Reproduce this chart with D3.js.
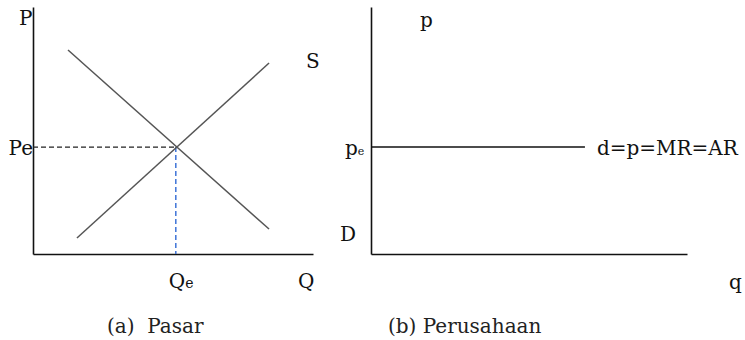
<!DOCTYPE html>
<html lang="id">
<head>
    <meta charset="UTF-8" />
    <title>Pasar dan Perusahaan - Persaingan Sempurna</title>
    <script src="https://d3js.org/d3.v7.min.js"></script>
    <style>
        body {
            margin: 0;
            background-color: #fff;
        }
        .lbl {
            font-family: 'DejaVu Serif', serif;
            font-size: 20px;
            fill: #111;
        }
        .caption {
            font-family: 'DejaVu Serif', serif;
            font-size: 20px;
            fill: #222;
        }
        .axis path {
            stroke: #111;
            stroke-width: 1.6px;
        }
        .curve {
            fill: none;
            stroke: #555;
            stroke-width: 1.5px;
        }
    </style>
</head>
<body>
    <svg id="chart"></svg>

    <script>
        // Panel (a) market: demand and supply, in units of 0..10
        const demand = [{ q: 1.25, p: 8.26 }, { q: 8.43, p: 1.01 }];
        const supply = [{ q: 1.57, p: 0.65 }, { q: 8.43, p: 7.73 }];
        const equilibrium = { q: 5.1, p: 4.33 };

        // Panel (b) firm: flat demand line at the market price
        const firmDemand = [{ q: 0, p: 4.33 }, { q: 6.77, p: 4.33 }];

        const captions = ["(a)  Pasar", "(b) Perusahaan"];

        const W = 745, H = 340;
        const svg = d3.select("#chart").attr("width", W).attr("height", H);

        // scales for each panel
        const xA = d3.scaleLinear().domain([0, 10]).range([33, 313]);
        const yA = d3.scaleLinear().domain([0, 10]).range([254, 7]);
        const xB = d3.scaleLinear().domain([0, 10]).range([371, 687]);
        const yB = d3.scaleLinear().domain([0, 10]).range([254, 7]);

        function drawAxes(x, y) {
            svg.append("g").attr("class", "axis")
                .attr("transform", "translate(0," + y(0) + ")")
                .call(d3.axisBottom(x).tickValues([]).tickSizeOuter(0));
            svg.append("g").attr("class", "axis")
                .attr("transform", "translate(" + x(0) + ",0)")
                .call(d3.axisLeft(y).tickValues([]).tickSizeOuter(0));
        }

        // ----- panel (a) -----
        drawAxes(xA, yA);

        const lineA = d3.line().x(d => xA(d.q)).y(d => yA(d.p));

        // equilibrium guides
        svg.append("line")
            .attr("x1", xA(0)).attr("x2", xA(equilibrium.q))
            .attr("y1", yA(equilibrium.p)).attr("y2", yA(equilibrium.p))
            .attr("stroke", "#222").attr("stroke-width", 1.3)
            .attr("stroke-dasharray", "5,3");
        svg.append("line")
            .attr("x1", xA(equilibrium.q)).attr("x2", xA(equilibrium.q))
            .attr("y1", yA(equilibrium.p)).attr("y2", yA(0))
            .attr("stroke", "#3f74d8").attr("stroke-width", 1.5)
            .attr("stroke-dasharray", "5,3");

        svg.append("path").datum(demand).attr("class", "curve").attr("d", lineA);
        svg.append("path").datum(supply).attr("class", "curve").attr("d", lineA);

        svg.append("text").attr("class", "lbl")
            .attr("x", xA(0) - 14).attr("y", yA(10) + 18).text("P");
        svg.append("text").attr("class", "lbl")
            .attr("x", 306).attr("y", 68).text("S");
        svg.append("text").attr("class", "lbl")
            .attr("x", xA(0)).attr("y", yA(equilibrium.p) + 8)
            .attr("text-anchor", "end").text("Pe");

        const qe = svg.append("text").attr("class", "lbl")
            .attr("x", xA(equilibrium.q) - 7).attr("y", 288);
        qe.append("tspan").text("Q");
        qe.append("tspan").attr("font-size", "14px").text("e");

        svg.append("text").attr("class", "lbl")
            .attr("x", xA(10) - 15).attr("y", 288).text("Q");

        // ----- panel (b) -----
        drawAxes(xB, yB);

        const lineB = d3.line().x(d => xB(d.q)).y(d => yB(d.p));
        svg.append("path").datum(firmDemand)
            .attr("fill", "none").attr("stroke", "#111").attr("stroke-width", 1.5)
            .attr("d", lineB);

        svg.append("text").attr("class", "lbl")
            .attr("x", xB(firmDemand[1].q) + 12).attr("y", yB(firmDemand[1].p) + 8)
            .text("d=p=MR=AR");

        svg.append("text").attr("class", "lbl")
            .attr("x", 420).attr("y", 27).text("p");

        const pe = svg.append("text").attr("class", "lbl")
            .attr("x", 345).attr("y", yB(firmDemand[0].p) + 8);
        pe.append("tspan").text("p");
        pe.append("tspan").attr("font-size", "11px").text("e");

        svg.append("text").attr("class", "lbl")
            .attr("x", 340).attr("y", 241).text("D");
        svg.append("text").attr("class", "lbl")
            .attr("x", 729).attr("y", 289).text("q");

        // ----- captions -----
        svg.selectAll(".caption")
            .data(captions)
            .enter()
            .append("text")
            .attr("class", "caption")
            .attr("x", (d, i) => i === 0 ? 107 : 388)
            .attr("y", 333)
            .attr("xml:space", "preserve")
            .style("white-space", "pre")
            .text(d => d);
    </script>
</body>
</html>
